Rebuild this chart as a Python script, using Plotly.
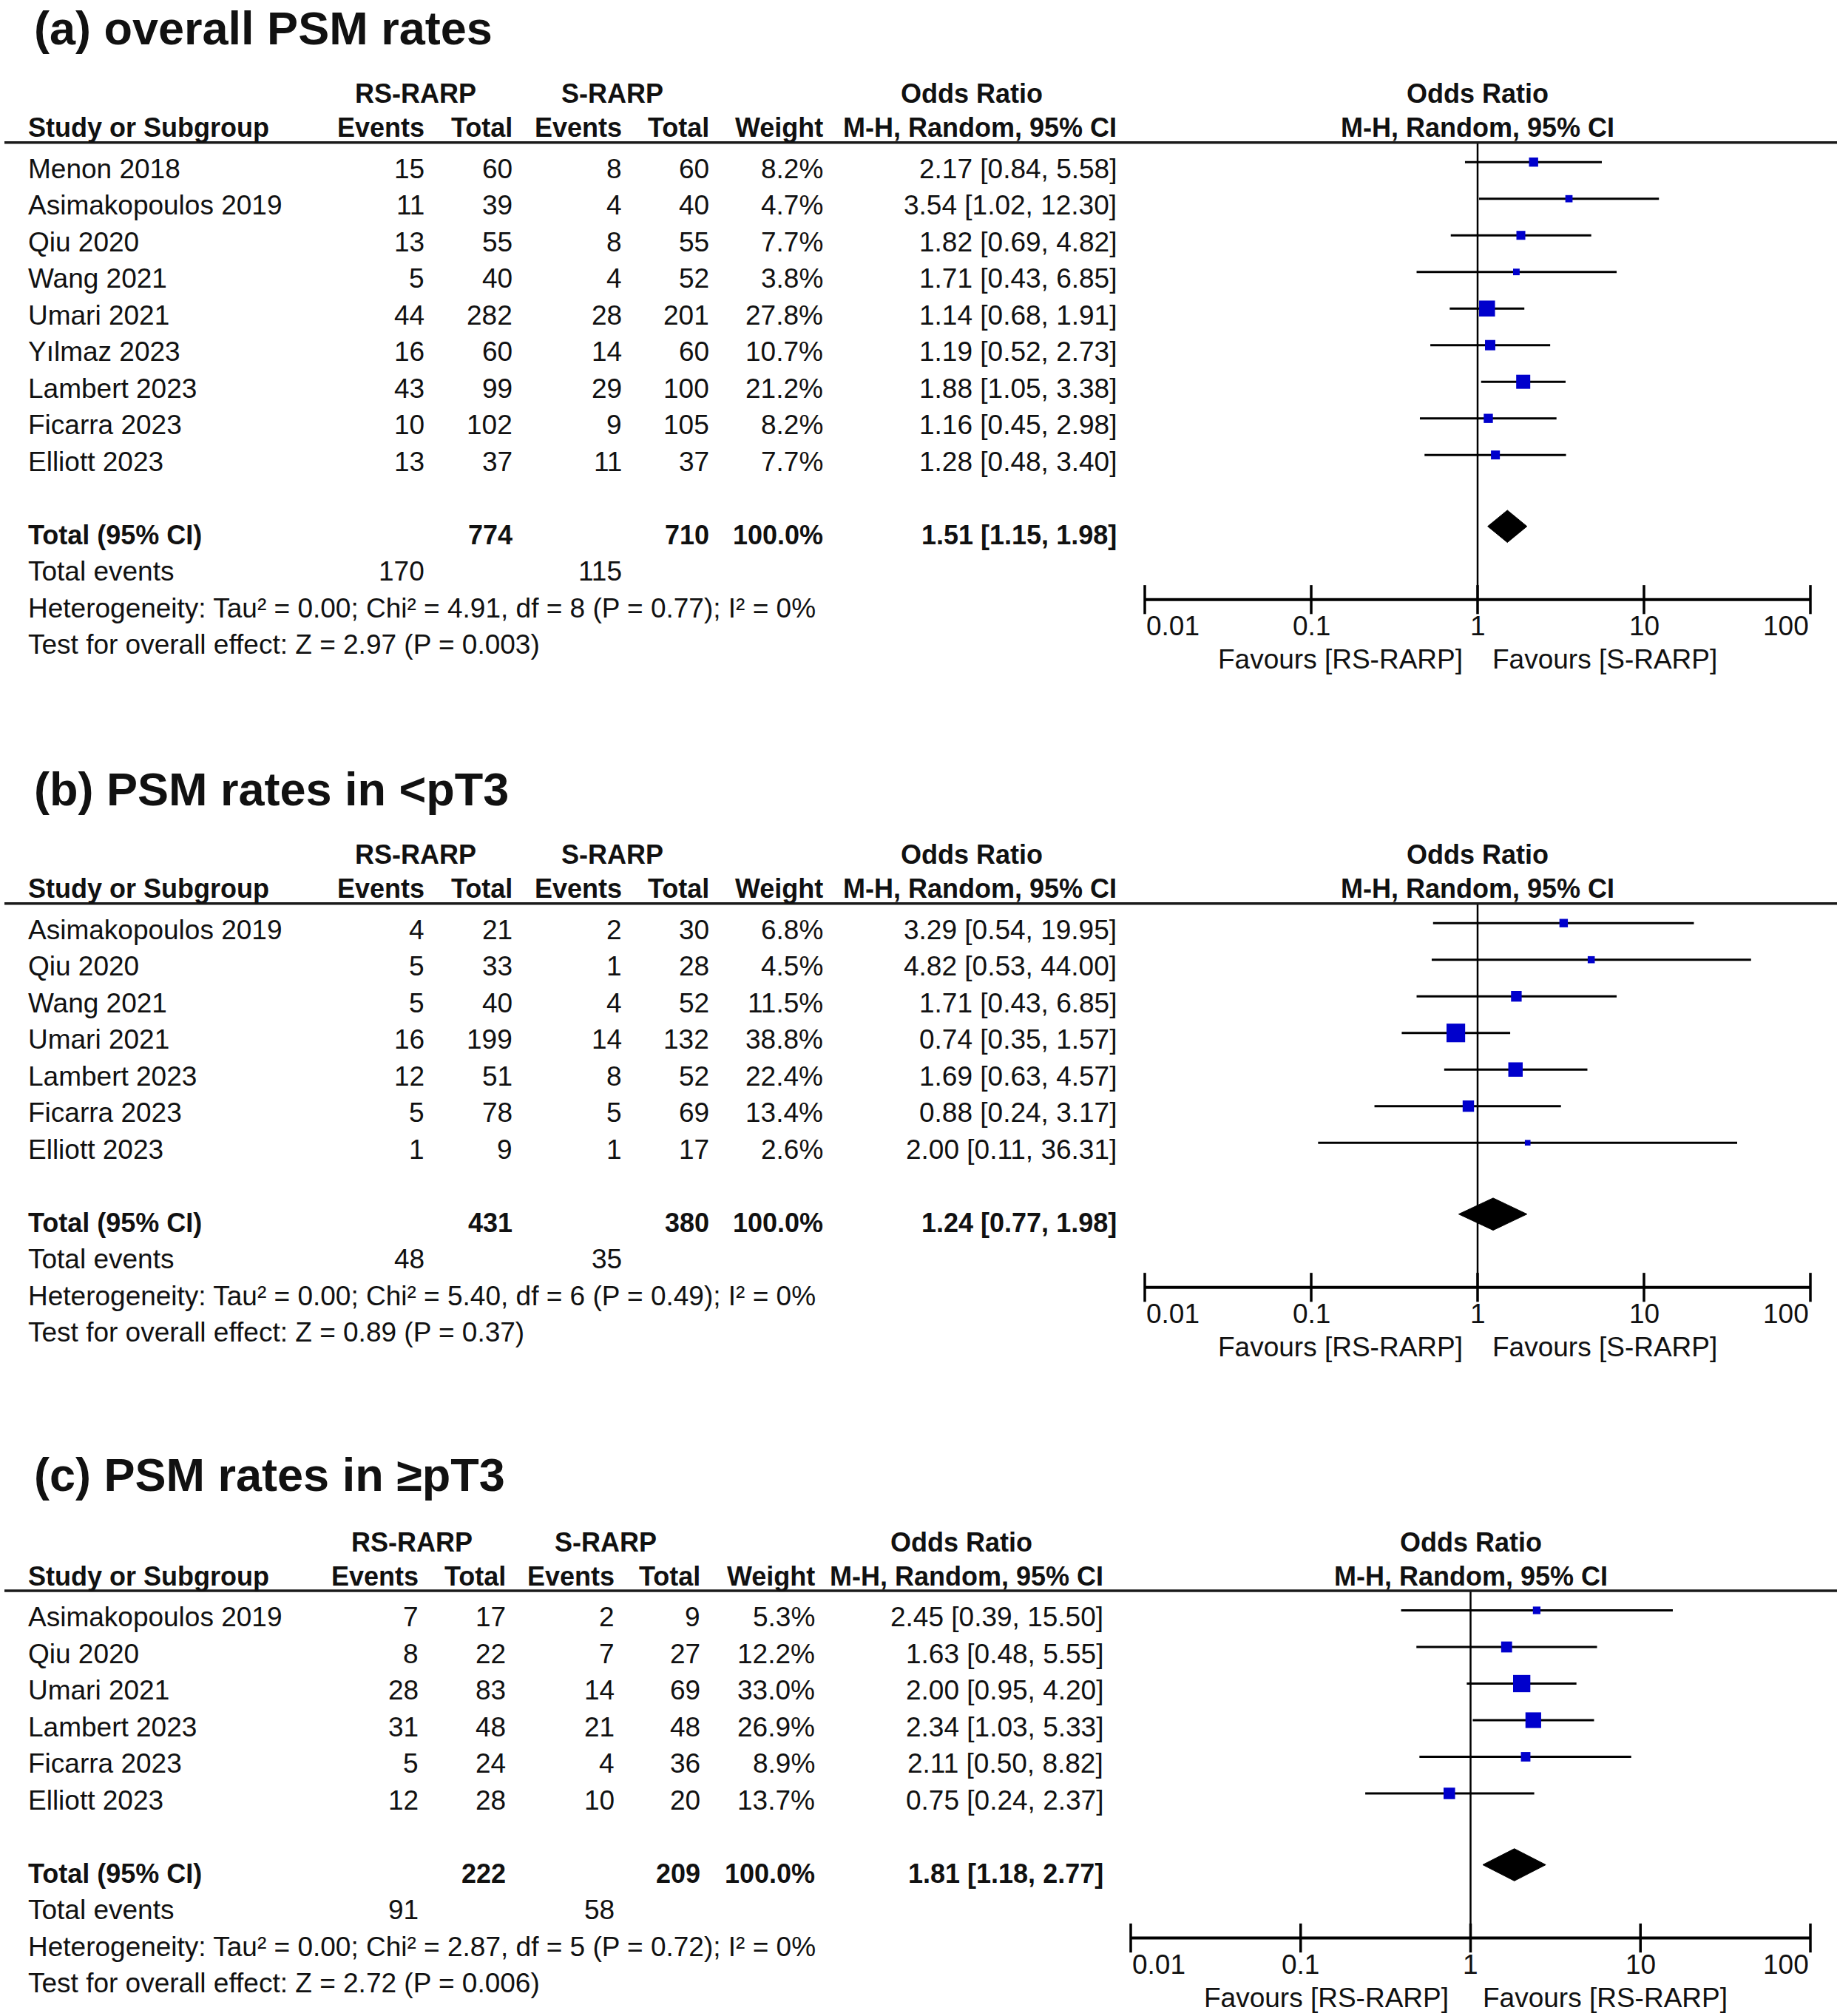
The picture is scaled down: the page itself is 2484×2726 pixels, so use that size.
import math
import plotly.graph_objects as go

W, H = 2484, 2726

# ---------------- data: panel (a) overall PSM rates ----------------
A_STUDY = ["Menon 2018", "Asimakopoulos 2019", "Qiu 2020", "Wang 2021", "Umari 2021",
           "Yılmaz 2023", "Lambert 2023", "Ficarra 2023", "Elliott 2023"]
A_RS_EVENTS = [15, 11, 13, 5, 44, 16, 43, 10, 13]
A_RS_TOTAL = [60, 39, 55, 40, 282, 60, 99, 102, 37]
A_S_EVENTS = [8, 4, 8, 4, 28, 14, 29, 9, 11]
A_S_TOTAL = [60, 40, 55, 52, 201, 60, 100, 105, 37]
A_WEIGHT = [8.2, 4.7, 7.7, 3.8, 27.8, 10.7, 21.2, 8.2, 7.7]
A_OR = [2.17, 3.54, 1.82, 1.71, 1.14, 1.19, 1.88, 1.16, 1.28]
A_LO = [0.84, 1.02, 0.69, 0.43, 0.68, 0.52, 1.05, 0.45, 0.48]
A_HI = [5.58, 12.30, 4.82, 6.85, 1.91, 2.73, 3.38, 2.98, 3.40]
A_TOTALS = [774, 710]
A_TOTAL_EVENTS = [170, 115]
A_POOLED = [1.51, 1.15, 1.98]
A_HET = [0.00, 4.91, 8, 0.77, 0]      # Tau2, Chi2, df, P, I2
A_TEST = [2.97, 0.003]                # Z, P

# ---------------- data: panel (b) PSM rates in <pT3 ----------------
B_STUDY = ["Asimakopoulos 2019", "Qiu 2020", "Wang 2021", "Umari 2021",
           "Lambert 2023", "Ficarra 2023", "Elliott 2023"]
B_RS_EVENTS = [4, 5, 5, 16, 12, 5, 1]
B_RS_TOTAL = [21, 33, 40, 199, 51, 78, 9]
B_S_EVENTS = [2, 1, 4, 14, 8, 5, 1]
B_S_TOTAL = [30, 28, 52, 132, 52, 69, 17]
B_WEIGHT = [6.8, 4.5, 11.5, 38.8, 22.4, 13.4, 2.6]
B_OR = [3.29, 4.82, 1.71, 0.74, 1.69, 0.88, 2.00]
B_LO = [0.54, 0.53, 0.43, 0.35, 0.63, 0.24, 0.11]
B_HI = [19.95, 44.00, 6.85, 1.57, 4.57, 3.17, 36.31]
B_TOTALS = [431, 380]
B_TOTAL_EVENTS = [48, 35]
B_POOLED = [1.24, 0.77, 1.98]
B_HET = [0.00, 5.40, 6, 0.49, 0]
B_TEST = [0.89, 0.37]

# ---------------- data: panel (c) PSM rates in >=pT3 ----------------
C_STUDY = ["Asimakopoulos 2019", "Qiu 2020", "Umari 2021", "Lambert 2023",
           "Ficarra 2023", "Elliott 2023"]
C_RS_EVENTS = [7, 8, 28, 31, 5, 12]
C_RS_TOTAL = [17, 22, 83, 48, 24, 28]
C_S_EVENTS = [2, 7, 14, 21, 4, 10]
C_S_TOTAL = [9, 27, 69, 48, 36, 20]
C_WEIGHT = [5.3, 12.2, 33.0, 26.9, 8.9, 13.7]
C_OR = [2.45, 1.63, 2.00, 2.34, 2.11, 0.75]
C_LO = [0.39, 0.48, 0.95, 1.03, 0.50, 0.24]
C_HI = [15.50, 5.55, 4.20, 5.33, 8.82, 2.37]
C_TOTALS = [222, 209]
C_TOTAL_EVENTS = [91, 58]
C_POOLED = [1.81, 1.18, 2.77]
C_HET = [0.00, 2.87, 5, 0.72, 0]
C_TEST = [2.72, 0.006]

TICKS = [0.01, 0.1, 1, 10, 100]
TICK_LABELS = ["0.01", "0.1", "1", "10", "100"]

# ---------------- layout / style ----------------
FONT = "Liberation Sans, Arial, Helvetica, sans-serif"
TXT = "#111111"
BLUE = "#0000CC"
BODY, HEAD, TITLE = 37, 36, 63
PITCH = 49.5
TEXT_DROP = 9

PANELS = [
    dict(title="(a) overall PSM rates", study=A_STUDY, e1=A_RS_EVENTS, t1=A_RS_TOTAL,
         e2=A_S_EVENTS, t2=A_S_TOTAL, w=A_WEIGHT, est=A_OR, lo=A_LO, hi=A_HI,
         totals=A_TOTALS, tev=A_TOTAL_EVENTS, pooled=A_POOLED, het=A_HET, test=A_TEST,
         fav=("Favours [RS-RARP]", "Favours [S-RARP]"), fav_shift=(-18, 18),
         band=(0, 975), line_px=192.7, title_px=38,
         cols=[576, 695, 843, 961, 1115, 1512], centers=[562, 828, 1314],
         forest_px=(1548, 2448)),
    dict(title="(b) PSM rates in &lt;pT3", study=B_STUDY, e1=B_RS_EVENTS, t1=B_RS_TOTAL,
         e2=B_S_EVENTS, t2=B_S_TOTAL, w=B_WEIGHT, est=B_OR, lo=B_LO, hi=B_HI,
         totals=B_TOTALS, tev=B_TOTAL_EVENTS, pooled=B_POOLED, het=B_HET, test=B_TEST,
         fav=("Favours [RS-RARP]", "Favours [S-RARP]"), fav_shift=(-18, 18),
         band=(975, 1900), line_px=1221.7, title_px=1067,
         cols=[576, 695, 843, 961, 1115, 1512], centers=[562, 828, 1314],
         forest_px=(1548, 2448)),
    dict(title="(c) PSM rates in ≥pT3", study=C_STUDY, e1=C_RS_EVENTS, t1=C_RS_TOTAL,
         e2=C_S_EVENTS, t2=C_S_TOTAL, w=C_WEIGHT, est=C_OR, lo=C_LO, hi=C_HI,
         totals=C_TOTALS, tev=C_TOTAL_EVENTS, pooled=C_POOLED, het=C_HET, test=C_TEST,
         fav=("Favours [RS-RARP]", "Favours [RS-RARP]"), fav_shift=(-28, 14),
         band=(1900, H), line_px=2151, title_px=1994,
         cols=[568, 686, 833, 949, 1104, 1494], centers=[556.5, 819, 1300],
         forest_px=(1529, 2448)),
]

fig = go.Figure()
annotations = []
shapes = []


def txt(text, x, y, xref, yref, anchor, size=BODY, bold=False, yshift=0, xshift=0):
    annotations.append(dict(
        text=f"<b>{text}</b>" if bold else text, x=x, y=y, xref=xref, yref=yref,
        xanchor=anchor, yanchor="middle", showarrow=False, yshift=yshift, xshift=xshift,
        font=dict(family=FONT, size=size, color=TXT)))


for i, p in enumerate(PANELS, start=1):
    sfx = "" if i == 1 else str(i)
    xa, ya = "x" + sfx, "y" + sfx
    L = p["line_px"]
    F1 = L + 26.5

    def row_of(px, F1=F1):
        return 1 + (px - F1) / PITCH

    P0, P1 = p["band"]
    fig.update_layout(**{
        "xaxis" + sfx: dict(type="log", range=[-2, 2], visible=False, anchor=ya, fixedrange=True,
                            domain=[p["forest_px"][0] / W, p["forest_px"][1] / W]),
        "yaxis" + sfx: dict(range=[row_of(P1), row_of(P0)], visible=False, anchor=xa,
                            fixedrange=True, domain=[1 - P1 / H, 1 - P0 / H]),
    })

    n = len(p["study"])
    rows = list(range(1, n + 1))
    r_line = row_of(L)
    r_axis = n + 3.95
    r_tot = n + 2

    # null line
    fig.add_trace(go.Scatter(x=[1, 1], y=[r_line, r_axis], mode="lines",
                             line=dict(color="black", width=2.5), xaxis=xa, yaxis=ya,
                             hoverinfo="skip"))
    # confidence intervals
    cx, cy = [], []
    for lo, hi, r in zip(p["lo"], p["hi"], rows):
        cx += [lo, hi, None]
        cy += [r, r, None]
    fig.add_trace(go.Scatter(x=cx, y=cy, mode="lines", line=dict(color="black", width=3),
                             xaxis=xa, yaxis=ya, hoverinfo="skip"))
    # study squares
    fig.add_trace(go.Scatter(x=p["est"], y=rows, mode="markers",
                             marker=dict(symbol="square", color=BLUE, opacity=1,
                                         line=dict(width=0),
                                         size=[1.5 + 3.8 * math.sqrt(w) for w in p["w"]]),
                             xaxis=xa, yaxis=ya, hoverinfo="skip"))
    # pooled diamond
    est, lo, hi = p["pooled"]
    rd = r_tot - 0.05
    hh = 0.44
    fig.add_trace(go.Scatter(x=[lo, est, hi, est, lo], y=[rd, rd - hh, rd, rd + hh, rd],
                             mode="lines", fill="toself", fillcolor="black",
                             line=dict(color="black", width=1), xaxis=xa, yaxis=ya,
                             hoverinfo="skip"))
    # axis line and cross ticks
    fig.add_trace(go.Scatter(x=[TICKS[0], TICKS[-1]], y=[r_axis, r_axis], mode="lines",
                             line=dict(color="black", width=4), xaxis=xa, yaxis=ya,
                             hoverinfo="skip"))
    fig.add_trace(go.Scatter(x=TICKS, y=[r_axis] * len(TICKS), mode="markers",
                             marker=dict(symbol="line-ns", size=28,
                                         line=dict(color="black", width=3.5)),
                             cliponaxis=False, xaxis=xa, yaxis=ya, hoverinfo="skip"))
    last = len(TICKS) - 1
    for j, (t, lab) in enumerate(zip(TICKS, TICK_LABELS)):
        anchor = "left" if j == 0 else ("right" if j == last else "center")
        txt(lab, math.log10(t), r_axis, xa, ya, anchor, yshift=-36)
    txt(p["fav"][0], 0, r_axis, xa, ya, "right", yshift=-81, xshift=p["fav_shift"][0])
    txt(p["fav"][1], 0, r_axis, xa, ya, "left", yshift=-81, xshift=p["fav_shift"][1])

    # header line
    shapes.append(dict(type="line", xref="paper", yref=ya, x0=6 / W, x1=1,
                       y0=r_line, y1=r_line, line=dict(color="#1a1a1a", width=3.5)))

    # title
    txt(p["title"], 44 / W, row_of(p["title_px"]), "paper", ya, "left", size=TITLE, bold=True)

    c = [v / W for v in p["cols"]]
    ctr = [v / W for v in p["centers"]]
    left = 36 / W
    r_h1 = row_of(L - 66)
    r_h2 = row_of(L - 20)
    txt("RS-RARP", ctr[0], r_h1, "paper", ya, "center", size=HEAD, bold=True)
    txt("S-RARP", ctr[1], r_h1, "paper", ya, "center", size=HEAD, bold=True)
    txt("Odds Ratio", ctr[2], r_h1, "paper", ya, "center", size=HEAD, bold=True)
    txt("Odds Ratio", 0, r_h1, xa, ya, "center", size=HEAD, bold=True)
    txt("Study or Subgroup", left, r_h2, "paper", ya, "left", size=HEAD, bold=True)
    for k, lab in enumerate(["Events", "Total", "Events", "Total", "Weight",
                             "M-H, Random, 95% CI"]):
        txt(lab, c[k], r_h2, "paper", ya, "right", size=HEAD, bold=True)
    txt("M-H, Random, 95% CI", 0, r_h2, xa, ya, "center", size=HEAD, bold=True)

    # study rows
    for r, s, e1, t1, e2, t2, w, o, lo_, hi_ in zip(rows, p["study"], p["e1"], p["t1"],
                                                   p["e2"], p["t2"], p["w"], p["est"],
                                                   p["lo"], p["hi"]):
        txt(s, left, r, "paper", ya, "left", yshift=-TEXT_DROP)
        vals = [str(e1), str(t1), str(e2), str(t2), f"{w:.1f}%",
                f"{o:.2f} [{lo_:.2f}, {hi_:.2f}]"]
        for k, v in enumerate(vals):
            txt(v, c[k], r, "paper", ya, "right", yshift=-TEXT_DROP)

    # totals
    txt("Total (95% CI)", left, r_tot, "paper", ya, "left", size=HEAD, bold=True,
        yshift=-TEXT_DROP)
    txt(str(p["totals"][0]), c[1], r_tot, "paper", ya, "right", size=HEAD, bold=True,
        yshift=-TEXT_DROP)
    txt(str(p["totals"][1]), c[3], r_tot, "paper", ya, "right", size=HEAD, bold=True,
        yshift=-TEXT_DROP)
    txt(f"{sum(p['w']):.1f}%", c[4], r_tot, "paper", ya, "right", size=HEAD, bold=True,
        yshift=-TEXT_DROP)
    txt(f"{est:.2f} [{lo:.2f}, {hi:.2f}]", c[5], r_tot, "paper", ya, "right", size=HEAD,
        bold=True, yshift=-TEXT_DROP)
    txt("Total events", left, r_tot + 1, "paper", ya, "left", yshift=-TEXT_DROP)
    txt(str(p["tev"][0]), c[0], r_tot + 1, "paper", ya, "right", yshift=-TEXT_DROP)
    txt(str(p["tev"][1]), c[2], r_tot + 1, "paper", ya, "right", yshift=-TEXT_DROP)
    tau2, chi2, df, ph, i2 = p["het"]
    txt(f"Heterogeneity: Tau² = {tau2:.2f}; Chi² = {chi2:.2f}, df = {df} (P = {ph:g}); "
        f"I² = {i2:g}%", left, r_tot + 2, "paper", ya, "left", yshift=-TEXT_DROP)
    z, pz = p["test"]
    txt(f"Test for overall effect: Z = {z:.2f} (P = {pz:g})", left, r_tot + 3, "paper", ya,
        "left", yshift=-TEXT_DROP)

fig.update_layout(
    width=W, height=H, autosize=False,
    margin=dict(l=0, r=0, t=0, b=0, pad=0),
    paper_bgcolor="white", plot_bgcolor="white",
    showlegend=False,
    font=dict(family=FONT, color=TXT),
    annotations=annotations, shapes=shapes,
)

fig.write_html(
    "out.html",
    config={"displayModeBar": False},
    post_script="document.body.style.margin='0px';document.body.style.padding='0px';",
)
